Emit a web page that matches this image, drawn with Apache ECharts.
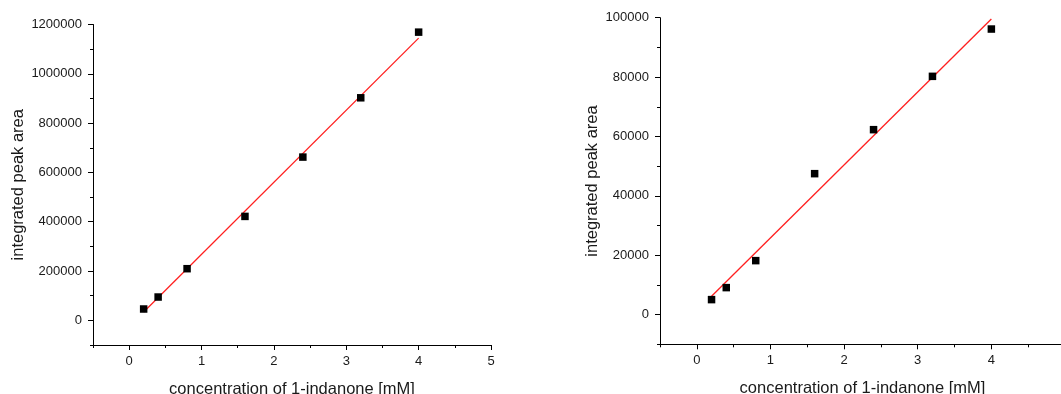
<!DOCTYPE html>
<html><head><meta charset="utf-8">
<script src="https://cdn.jsdelivr.net/npm/echarts@6/dist/echarts.min.js"></script>
<style>html,body{margin:0;padding:0;background:#fff}#c{width:1061px;height:394px}</style>
</head><body><div id="c"></div>
<script>
// Data
const concentrations = [0.2, 0.4, 0.8, 1.6, 2.4, 3.2, 4.0];
const leftArea = [46000, 94600, 209500, 421600, 662200, 902700, 1169000];
const rightArea = [5050, 9090, 18180, 47470, 62290, 80250, 96180];
const leftFit = [[0.2, 33800], [4.0, 1144600]];
const rightFit = [[0.2, 6170], [4.0, 99550]];
const leftYTicks = [0, 200000, 400000, 600000, 800000, 1000000, 1200000];
const rightYTicks = [0, 20000, 40000, 60000, 80000, 100000];
const xTicks = [0, 1, 2, 3, 4, 5];
const xTitle = 'concentration of 1-indanone [mM]';
const yTitle = 'integrated peak area';

const FONT = 'Liberation Sans, Arial, sans-serif';
const TXT = '#1a1a1a';
const RED = '#ff2020';
const chart = echarts.init(document.getElementById('c'), null, {renderer: 'canvas'});
const plain = v => String(v);

function xAxesFor(gi) {
  return [
    {type: 'value', gridIndex: gi, min: -0.5, max: 5, interval: 0.5,
     name: xTitle, nameLocation: 'middle', nameGap: 36,
     nameTextStyle: {fontFamily: FONT, fontSize: 16.5, color: TXT},
     axisLine: {show: true, onZero: false, lineStyle: {color: '#000', width: 1}},
     axisTick: {show: true, length: 3, lineStyle: {color: '#000'}},
     axisLabel: {show: false}, splitLine: {show: false}},
    {type: 'value', gridIndex: gi, min: -0.5, max: 5, position: 'bottom',
     axisLine: {show: false, onZero: false},
     axisTick: {show: true, length: 5, customValues: xTicks, lineStyle: {color: '#000'}},
     axisLabel: {show: true, customValues: xTicks, formatter: plain, margin: 10,
                 fontFamily: FONT, fontSize: 13, color: TXT},
     splitLine: {show: false}}
  ];
}
function yAxesFor(gi, min, max, step, ticks, gap) {
  return [
    {type: 'value', gridIndex: gi, min: min, max: max, interval: step,
     name: yTitle, nameLocation: 'middle', nameGap: gap, nameRotate: 90,
     nameTextStyle: {fontFamily: FONT, fontSize: 16.5, color: TXT},
     axisLine: {show: true, onZero: false, lineStyle: {color: '#000', width: 1}},
     axisTick: {show: true, length: 3, lineStyle: {color: '#000'}},
     axisLabel: {show: false}, splitLine: {show: false}},
    {type: 'value', gridIndex: gi, min: min, max: max, position: 'left',
     axisLine: {show: false, onZero: false},
     axisTick: {show: true, length: 5, customValues: ticks, lineStyle: {color: '#000'}},
     axisLabel: {show: true, customValues: ticks, formatter: plain, margin: 11,
                 fontFamily: FONT, fontSize: 13, color: TXT},
     splitLine: {show: false}}
  ];
}

function fitSeries(xi, yi, data) {
  return {type: 'line', xAxisIndex: xi, yAxisIndex: yi, data: data, showSymbol: false,
          symbol: 'none', color: RED, lineStyle: {color: RED, width: 1.3}, itemStyle: {color: RED},
          emphasis: {disabled: true}, silent: true, z: 2};
}
function pointSeries(xi, yi, vals) {
  return {type: 'scatter', xAxisIndex: xi, yAxisIndex: yi, symbol: 'rect', symbolSize: 7.5,
          color: '#000', itemStyle: {color: '#000', opacity: 1}, emphasis: {disabled: true},
          silent: true, data: concentrations.map((c, i) => [c, vals[i]]), z: 3};
}

const option = {
  backgroundColor: '#fff',
  animation: false,
  grid: [
    {left: 93, top: 24.5, width: 398, height: 320.5, containLabel: false, outerBoundsMode: 'none'},
    {left: 660, top: 17.7, width: 405, height: 326.6, containLabel: false, outerBoundsMode: 'none'}
  ],
  xAxis: [...xAxesFor(0), ...xAxesFor(1)],
  yAxis: [...yAxesFor(0, -100000, 1200000, 100000, leftYTicks, 66),
          ...yAxesFor(1, -10000, 100000, 10000, rightYTicks, 59)],
  series: [
    fitSeries(0, 0, leftFit),
    pointSeries(0, 0, leftArea),
    fitSeries(2, 2, rightFit),
    pointSeries(2, 2, rightArea)
  ]
};
chart.setOption(option);
</script></body></html>
